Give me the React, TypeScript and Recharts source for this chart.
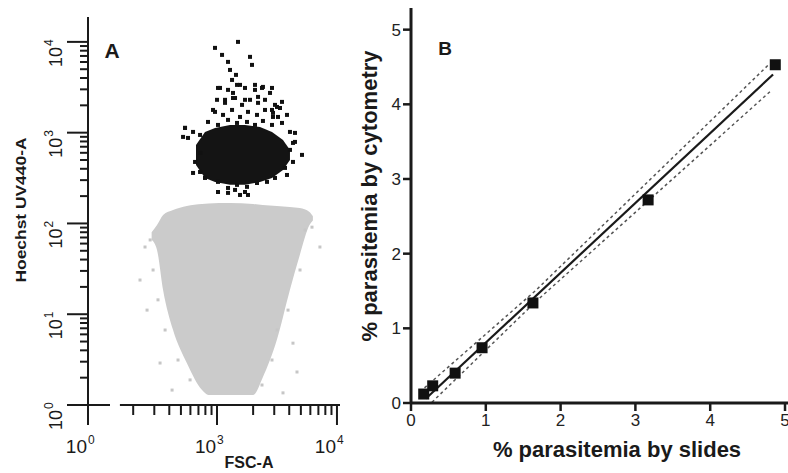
import { ComposedChart, Area, Scatter, Line, XAxis, YAxis, ReferenceLine } from 'recharts';

// ---- Panel A: Hoechst UV440-A vs FSC-A (flow cytometry) ----
// the FSC axis is broken: its origin stands for 10^0
const FSC_AXIS_ORIGIN = 84;
const FSC_AXIS_START = 155;
const FSC_MAX = 10600;
const HOECHST_MAX = 18800;

const fscTicks = [84, 200, 300, 400, 500, 600, 700, 800, 900, 1000, 2000, 3000, 4000, 5000, 6000, 7000, 8000, 9000, 10000];
const fscTickExponents: Record<number, string> = { 84: '0', 1000: '3', 10000: '4' };
const hoechstTicks = [
  1, 2, 3, 4, 5, 6, 7, 8, 9,
  10, 20, 30, 40, 50, 60, 70, 80, 90,
  100, 200, 300, 400, 500, 600, 700, 800, 900,
  1000, 2000, 3000, 4000, 5000, 6000, 7000, 8000, 9000, 10000,
];
const hoechstTickExponents: Record<number, string> = { 1: '0', 10: '1', 100: '2', 1000: '3', 10000: '4' };

// uninfected cells (grey cloud outline)
const cloudFsc = [285, 316, 355, 430, 560, 750, 850, 1280, 2000, 2400, 3150, 4050, 4900, 5900, 6300];
const cloudLow = [66, 51, 18.5, 6.7, 2.9, 1.46, 1.29, 1.29, 1.29, 2.0, 5.2, 18.5, 45, 96, 108];
const cloudHigh = [80, 96, 124, 141, 156, 164, 166, 168, 164, 160, 156, 152, 148, 134, 120];

// stray grey events
const greyFsc = [228, 251, 261, 335, 422, 3162, 3548, 4298, 4642, 6190, 7210, 277, 293, 322, 369, 473, 596, 5412, 4920, 3908, 2873, 2371];
const greyHoechst = [23.8, 55, 11.1, 2.9, 1.46, 6.7, 1.36, 4.8, 2.31, 91, 55, 65.8, 30.7, 14.4, 6.7, 3.13, 1.89, 84.8, 30.7, 11.1, 3.13, 1.66];

// infected cells (dense black core)
const coreFsc = [668, 794, 962, 1283, 1711, 2282, 2873, 3548, 4057];
const coreLow = [441, 317, 287, 266, 266, 287, 317, 389, 501];
const coreHigh = [733, 1019, 1128, 1217, 1217, 1156, 1019, 832, 646];

// black events around the core
const blackFsc = [
  1496, 962, 1101, 1235, 1884, 1957, 1283, 1439, 1334, 1059, 1555, 2073, 2371, 2766,
  1166, 1413, 1711, 2197, 2512, 2873, 3350, 926, 1359, 2928, 3162, 4467, 4298,
  541, 521, 631, 722, 1019, 1235, 1555, 1812, 1413,
  1019, 1235, 1468, 1711, 2073, 2415, 2873, 1000, 1166, 1359, 1616, 1884, 2197, 3043,
  3481, 3831, 962, 1122, 1334, 1555, 1812, 2154, 2512, 2928, 3224, 841, 1019, 1235,
  1468, 1778, 2073, 2415, 2873, 3481, 541, 631, 573, 722, 4057, 4467, 4057, 5110,
  4298, 3687, 3831, 656, 722, 794, 1019, 1235, 1468, 1778, 2154, 2610, 3043, 1019, 1711,
];
const blackHoechst = [
  10000, 8590, 7190, 6020, 6840, 5580, 4910, 4330, 3810, 3110, 3360, 2960, 3110, 2740,
  2300, 2410, 2300, 2130, 2300, 1780, 1870, 1780, 2740, 1490, 1920, 994, 771,
  1130, 898, 360, 598, 222, 217, 206, 206, 234,
  3110, 2960, 3360, 3110, 3360, 3192, 3110, 2300, 2130, 2410, 2023, 2300, 2477, 2023,
  2183, 1569, 1694, 1569, 1780, 1490, 1694, 1569, 1780, 1652, 1490, 1313, 1217, 1382,
  1280, 1313, 1217, 1346, 1217, 1280, 1128, 1019, 875, 944, 1019, 791, 646, 569,
  476, 409, 342, 476, 369, 317, 287, 246, 266, 253, 279, 287, 317, 222, 222,
];

// ---- Panel B: % parasitemia, cytometry vs slides ----
const slides = [0.17, 0.29, 0.59, 0.95, 1.63, 3.17, 4.87];
const cytometry = [0.12, 0.23, 0.40, 0.74, 1.34, 2.72, 4.53];
const fitX = [0.2, 4.84];
const fitY = [0.06, 4.40];
const upperX = [0.12, 1.67, 4.78];
const upperY = [0.15, 1.51, 4.53];
const lowerX = [0.28, 1.67, 4.80];
const lowerY = [0.01, 1.36, 4.17];
const bTicks = [0, 1, 2, 3, 4, 5];

const cloudData = cloudFsc.map((fsc, i) => ({ fsc, band: [cloudLow[i], cloudHigh[i]] }));
const coreData = coreFsc.map((fsc, i) => ({ fsc, band: [coreLow[i], coreHigh[i]] }));
const greyData = greyFsc.map((fsc, i) => ({ fsc, hoechst: greyHoechst[i] }));
const blackData = blackFsc.map((fsc, i) => ({ fsc, hoechst: blackHoechst[i] }));
const pointData = slides.map((x, i) => ({ x, y: cytometry[i] }));
const fitData = fitX.map((x, i) => ({ x, y: fitY[i] }));
const upperData = upperX.map((x, i) => ({ x, y: upperY[i] }));
const lowerData = lowerX.map((x, i) => ({ x, y: lowerY[i] }));

const FONT = '"Liberation Sans", Arial, Helvetica, sans-serif';
const INK = '#1a1a1a';

const FscTick = (props: any) => {
  const { x, y, payload } = props;
  const exp = fscTickExponents[payload.value];
  const major = exp !== undefined;
  return (
    <g>
      <line x1={x} x2={x} y1={y} y2={y + (major ? 20 : 10)} stroke={INK} strokeWidth={2} />
      {major && (
        <text x={x - 1} y={y + 48} fontFamily={FONT} fontSize={19} textAnchor="end" fill={INK}>10</text>
      )}
      {major && (
        <text x={x} y={y + 39} fontFamily={FONT} fontSize={12} fill={INK}>{exp}</text>
      )}
    </g>
  );
};

const HoechstTick = (props: any) => {
  const { x, y, payload } = props;
  const exp = hoechstTickExponents[payload.value];
  const major = exp !== undefined;
  return (
    <g>
      <line x1={x - (major ? 21 : 8)} x2={payload.value === 1 ? x + 22 : x} y1={y} y2={y} stroke={INK} strokeWidth={2} />
      {major && (
        <g transform={`translate(${x - 26}, ${y}) rotate(-90)`}>
          <text x={-5} y={0} textAnchor="end" fontFamily={FONT} fontSize={18} fill={INK}>10</text>
          <text x={-4} y={-9} fontFamily={FONT} fontSize={12} fill={INK}>{exp}</text>
        </g>
      )}
    </g>
  );
};

const square = (size: number, fill: string) => (p: any) => (
  <rect x={p.cx - size / 2} y={p.cy - size / 2} width={size} height={size} fill={fill} />
);

const App = () => {
  return (
    <div style={{ position: 'absolute', left: 0, top: 0, width: 788, height: 473, background: '#fff', overflow: 'hidden' }}>
      <div style={{ position: 'absolute', left: 0, top: 0 }}>
        <ComposedChart width={345} height={473} margin={{ top: 17, right: 5, left: 0, bottom: 0 }}>
          <XAxis
            dataKey="fsc"
            type="number"
            scale="log"
            domain={[FSC_AXIS_ORIGIN, FSC_MAX]}
            allowDataOverflow
            ticks={fscTicks}
            interval={0}
            tick={FscTick}
            tickLine={false}
            axisLine={false}
            tickSize={0}
            tickMargin={0}
            height={68}
          />
          <YAxis
            dataKey="hoechst"
            type="number"
            scale="log"
            domain={[1, HOECHST_MAX]}
            allowDataOverflow
            ticks={hoechstTicks}
            interval={0}
            tick={HoechstTick}
            tickLine={false}
            axisLine={{ stroke: INK, strokeWidth: 2 }}
            tickSize={0}
            tickMargin={0}
            width={88}
          />
          <Area data={cloudData} dataKey="band" type="monotone" fill="#cbcbcb" fillOpacity={1} stroke="none" isAnimationActive={false} />
          <Scatter data={greyData} dataKey="hoechst" shape={square(3, '#c6c6c6')} isAnimationActive={false} />
          <Area data={coreData} dataKey="band" type="linear" fill="#141414" fillOpacity={1} stroke="none" isAnimationActive={false} />
          <Scatter data={blackData} dataKey="hoechst" shape={square(4, '#111')} isAnimationActive={false} />
          <ReferenceLine
            segment={[{ x: FSC_AXIS_START, y: 1 }, { x: FSC_MAX, y: 1 }]}
            stroke={INK}
            strokeWidth={2}
            ifOverflow="visible"
          />
        </ComposedChart>
      </div>

      <div style={{ position: 'absolute', left: 340, top: 0 }}>
        <ComposedChart width={448} height={473} margin={{ top: 8, right: 0, left: 0, bottom: 0 }}>
          <XAxis
            dataKey="x"
            type="number"
            domain={[0, 5.04]}
            allowDataOverflow
            ticks={bTicks}
            interval={0}
            tickSize={8}
            tickMargin={3}
            tick={{ fontSize: 17, fill: '#222', fontFamily: FONT }}
            tickLine={{ stroke: INK, strokeWidth: 2.5 }}
            axisLine={{ stroke: INK, strokeWidth: 3 }}
            height={70}
          />
          <YAxis
            dataKey="y"
            type="number"
            domain={[0, 5.29]}
            allowDataOverflow
            ticks={bTicks}
            interval={0}
            tickSize={8}
            tickMargin={2}
            tick={{ fontSize: 17, fill: '#222', fontFamily: FONT }}
            tickLine={{ stroke: INK, strokeWidth: 2.5 }}
            axisLine={{ stroke: INK, strokeWidth: 3 }}
            width={71}
          />
          <Line data={upperData} dataKey="y" stroke="#555" strokeWidth={1.5} strokeDasharray="3 3" dot={false} isAnimationActive={false} />
          <Line data={lowerData} dataKey="y" stroke="#555" strokeWidth={1.5} strokeDasharray="3 3" dot={false} isAnimationActive={false} />
          <Line data={fitData} dataKey="y" stroke={INK} strokeWidth={2.2} dot={false} isAnimationActive={false} />
          <Scatter data={pointData} dataKey="y" shape={square(11, '#111')} isAnimationActive={false} />
        </ComposedChart>
      </div>

      <svg width={788} height={473} style={{ position: 'absolute', left: 0, top: 0, pointerEvents: 'none' }}>
        <g fontFamily={FONT} fill={INK} fontWeight="bold">
          <text x={112} y={58} fontSize={21} textAnchor="middle">A</text>
          <text x={445} y={55} fontSize={19} textAnchor="middle">B</text>
          <text x={249} y={468} fontSize={16} textAnchor="middle">FSC-A</text>
          <text
            transform="translate(26, 210) rotate(-90)"
            fontSize={15}
            textAnchor="middle"
            textLength={145}
            lengthAdjust="spacingAndGlyphs"
          >
            Hoechst UV440-A
          </text>
          <text x={617} y={457} fontSize={22} textAnchor="middle">% parasitemia by slides</text>
          <text transform="translate(377, 196) rotate(-90)" fontSize={22} textAnchor="middle">
            % parasitemia by cytometry
          </text>
        </g>
      </svg>
    </div>
  );
};

export default App;
